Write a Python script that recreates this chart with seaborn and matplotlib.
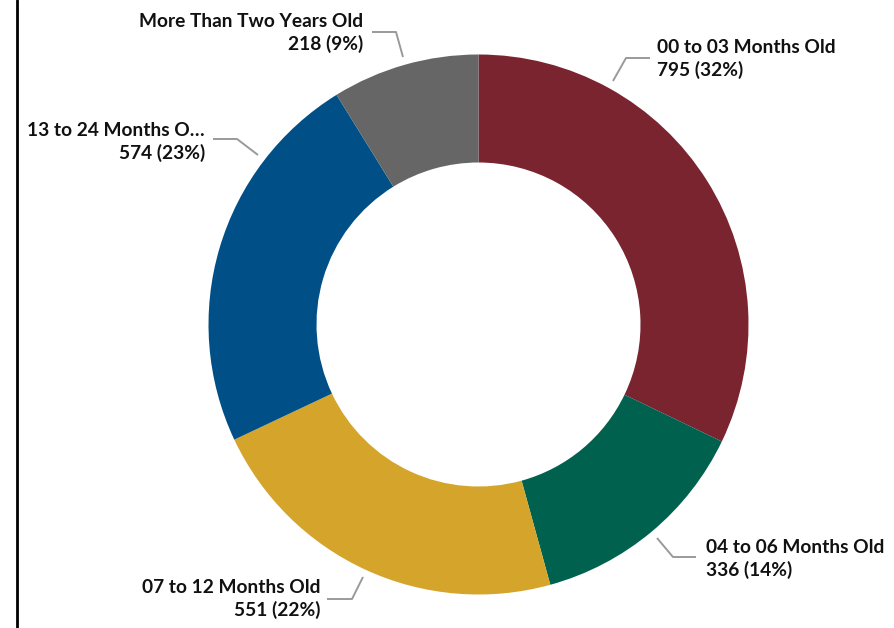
import matplotlib
matplotlib.use("Agg")
import matplotlib.pyplot as plt
import seaborn as sns

# ---------- Data ----------
categories = ["00 to 03 Months Old", "04 to 06 Months Old", "07 to 12 Months Old",
              "13 to 24 Months O\u2026", "More Than Two Years Old"]
counts = [795, 336, 551, 574, 218]
colors = ["#7A2430", "#00614F", "#D5A42B", "#005087", "#666666"]

# ---------- Layout (pixel coords, y down) ----------
W, H = 894, 628
center_px = (478.5, 324.5)
r_out, ring_w = 270, 108
# text anchor x, y, alignment ; leader polyline
label_pos = [
    (657, 59, "left"),
    (706, 559, "left"),
    (320, 599, "right"),
    (205, 142, "right"),
    (363, 33, "right"),
]
leaders = [
    [(613, 81), (626, 58), (650, 58)],
    [(657, 538), (673, 557), (696, 557)],
    [(327, 599), (352, 599), (363, 577)],
    [(213, 139), (237, 139), (258, 155)],
    [(372, 32), (396, 32), (403, 57)],
]

def px(x, y):
    return x, H - y

sns.set_theme(style="white")
plt.rcParams["font.family"] = ["Lato", "DejaVu Sans"]
pal = sns.color_palette(colors)

fig = plt.figure(figsize=(W / 100, H / 100), dpi=100)
ax = fig.add_axes([0, 0, 1, 1])

ax.pie(counts, colors=pal, startangle=90, counterclock=False,
       center=px(*center_px), radius=r_out,
       wedgeprops=dict(width=ring_w, linewidth=0))

total = sum(counts)
for name, v, (x, y, ha), pts in zip(categories, counts, label_pos, leaders):
    txt = f"{name}\n{v} ({v / total * 100:.0f}%)"
    ax.text(*px(x, y), txt, ha=ha, va="center", fontsize=13.8, fontweight="bold",
            color="#111111", linespacing=1.33, multialignment=ha)
    xs, ys = zip(*[px(a, b) for a, b in pts])
    ax.plot(xs, ys, color="#9A9A9A", lw=1.4, solid_capstyle="butt")

# left border line
ax.plot(*zip(px(17, 0), px(17, H)), color="black", lw=2)

ax.set_xlim(0, W)
ax.set_ylim(0, H)
ax.set_aspect("equal")
ax.axis("off")

fig.savefig("out.png", dpi=100, facecolor="white")
